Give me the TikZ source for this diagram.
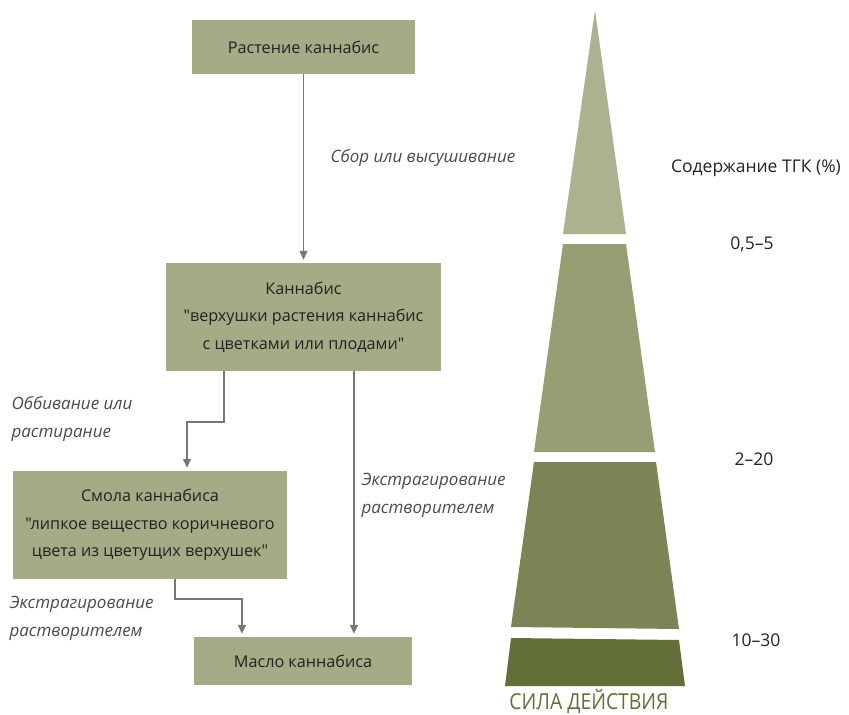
\documentclass[tikz,border=0pt]{standalone}
\usepackage{fontspec}
\setmainfont{Open Sans}[Ligatures=TeXOff]
\usetikzlibrary{arrows.meta}
\definecolor{boxc}{HTML}{A5AB87}
\definecolor{p1}{HTML}{ACB28F}
\definecolor{p2}{HTML}{989E74}
\definecolor{p3}{HTML}{7B8455}
\definecolor{p4}{HTML}{636F38}
\definecolor{arr}{HTML}{77777A}
\definecolor{lab}{HTML}{4A4A4A}
\definecolor{txt}{HTML}{222222}
\newcommand{\qq}{\char34\relax}
\begin{document}
\begin{tikzpicture}[x=1pt,y=-1pt,
  box/.style={fill=boxc, inner sep=0pt, align=center, text=txt, font=\fontsize{16.2}{27.5}\selectfont},
  conn/.style={draw=arr, line width=1.4pt, -{Triangle[length=9pt,width=8pt]}, shorten >=3pt},
  lbl/.style={font=\fontsize{17}{28}\selectfont\itshape, text=lab, align=left, anchor=west},
  val/.style={font=\fontsize{17.5}{20}\selectfont, text=txt, anchor=center}]
\useasboundingbox (0,0) rectangle (849,715);
% pyramid
\fill[p1] (595,10) -- (626,234) -- (563,234) -- cycle;
\fill[p2] (563,244) -- (626,244) -- (655,452) -- (534,452) -- cycle;
\fill[p3] (534,462) -- (656,462) -- (679,629) -- (511,627) -- cycle;
\fill[p4] (511,638) -- (679,640) -- (685,686) -- (505,686) -- cycle;
\node[font=\fontsize{22}{24}\selectfont, text=p4] (sila) at (589,701) {\scalebox{0.88}[1]{СИЛА ДЕЙСТВИЯ}};
\node[val] (hdr) at (756,168) {Содержание ТГК (\%)};
\node[val] (v1) at (752,244) {0,5–5};
\node[val] (v2) at (754,459) {2–20};
\node[val] (v3) at (756,640) {10–30};
% boxes
\node[box, minimum width=223pt, minimum height=54pt] (b1) at (303.5,47) {Растение каннабис};
\node[box, minimum width=275pt, minimum height=108pt] (b2) at (303.5,317) {Каннабис\\\qq верхушки растения каннабис\\с цветками или плодами\qq};
\node[box, minimum width=274pt, minimum height=108pt] (b3) at (150,525) {Смола каннабиса\\\qq липкое вещество коричневого\\цвета из цветущих верхушек\qq};
\node[box, minimum width=218pt, minimum height=48pt] (b4) at (303,661) {Масло каннабиса};
% connectors
\coordinate (k1) at (224,422);
\coordinate (k2) at (187,422);
\coordinate (k3) at (354,500);
\coordinate (k4) at (175,599);
\coordinate (k5) at (242,599);
\draw[conn] (b1) -- (b2);
\draw[conn] (b2.south -| k1) -- (k1) -- (k2) -- (b3.north -| k2);
\draw[conn] (b2.south -| k3) -- (b4.north -| k3);
\draw[conn] (b3.south -| k4) -- (k4) -- (k5) -- (b4.north -| k5);
% labels
\node[lbl] (l1) at (327,158) {Сбор или высушивание};
\node[lbl] (l2) at (8,419) {Оббивание или\\растирание};
\node[lbl] (l3) at (358,495) {Экстрагирование\\растворителем};
\node[lbl] (l4) at (6,618) {Экстрагирование\\растворителем};
\end{tikzpicture}
\end{document}
